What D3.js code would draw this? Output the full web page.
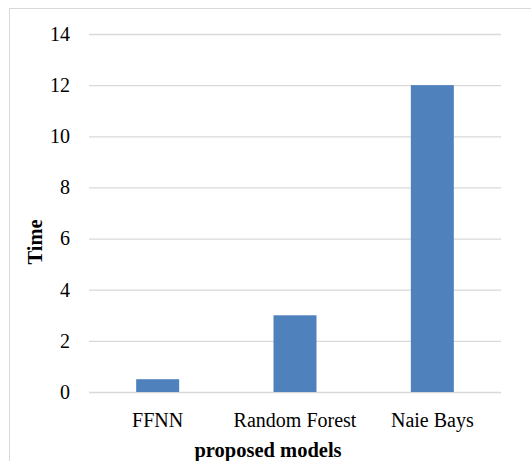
<!DOCTYPE html>
<html><head><meta charset="utf-8">
<script src="https://cdn.jsdelivr.net/npm/d3@7"></script>
<style>body{margin:0;background:#fff}svg{display:block}</style>
</head><body>
<script>
const categories = ["FFNN", "Random Forest", "Naie Bays"];
const values = [0.5, 3, 12];
const yTicks = [0, 2, 4, 6, 8, 10, 12, 14];
const xTitle = "proposed models";
const yTitle = "Time";

(function () {
const W = 531, H = 461;
const svg = d3.select("body").append("svg").attr("width", W).attr("height", H);
svg.append("rect").attr("width", W).attr("height", H).attr("fill", "#fff");
svg.append("rect").attr("x", 9.5).attr("y", 8.5).attr("width", 600).attr("height", 600)
  .attr("fill", "none").attr("stroke", "#D9D9D9").attr("stroke-width", 1);

const mL = 89, mR = 501, mT = 34, mB = 392;
const x = d3.scaleBand().domain(categories).range([mL, mR]).paddingInner(0.687).paddingOuter(0.3435);
const y = d3.scaleLinear().domain([0, 14]).range([mB, mT]);
const font = "'Liberation Serif','Times New Roman',serif";

const yAxis = svg.append("g").attr("transform", `translate(${mL},0)`)
  .attr("font-family", font)
  .call(d3.axisLeft(y).tickValues(yTicks).tickSize(-(mR - mL)).tickPadding(19));
yAxis.attr("font-family", font);
yAxis.select(".domain").remove();
yAxis.selectAll(".tick line").attr("stroke", "#D9D9D9").attr("stroke-width", 1.3);
yAxis.selectAll(".tick text").attr("x", -19).attr("font-family", font).attr("font-size", "20px").attr("fill", "#000");

svg.selectAll(".bar").data(values).join("rect").attr("class", "bar")
  .attr("x", (d, i) => x(categories[i])).attr("width", x.bandwidth())
  .attr("y", d => y(d)).attr("height", d => y(0) - y(d)).attr("fill", "#4F81BD");

const xAxis = svg.append("g").attr("transform", `translate(0,${mB})`)
  .call(d3.axisBottom(x).tickSize(0).tickPadding(21));
xAxis.attr("font-family", font);
xAxis.select(".domain").remove();
xAxis.selectAll(".tick text").attr("font-family", font).attr("font-size", "20px").attr("fill", "#000");

svg.append("text").attr("x", (mL + mR) / 2 - 27).attr("y", 457)
  .attr("text-anchor", "middle").attr("font-family", font).attr("font-size", "20.5px")
  .attr("font-weight", "bold").text(xTitle);
svg.append("text").attr("transform", `translate(42,${242}) rotate(-90)`)
  .attr("text-anchor", "middle").attr("font-family", font).attr("font-size", "20.5px")
  .attr("font-weight", "bold").text(yTitle);
})();
</script>
</body></html>
